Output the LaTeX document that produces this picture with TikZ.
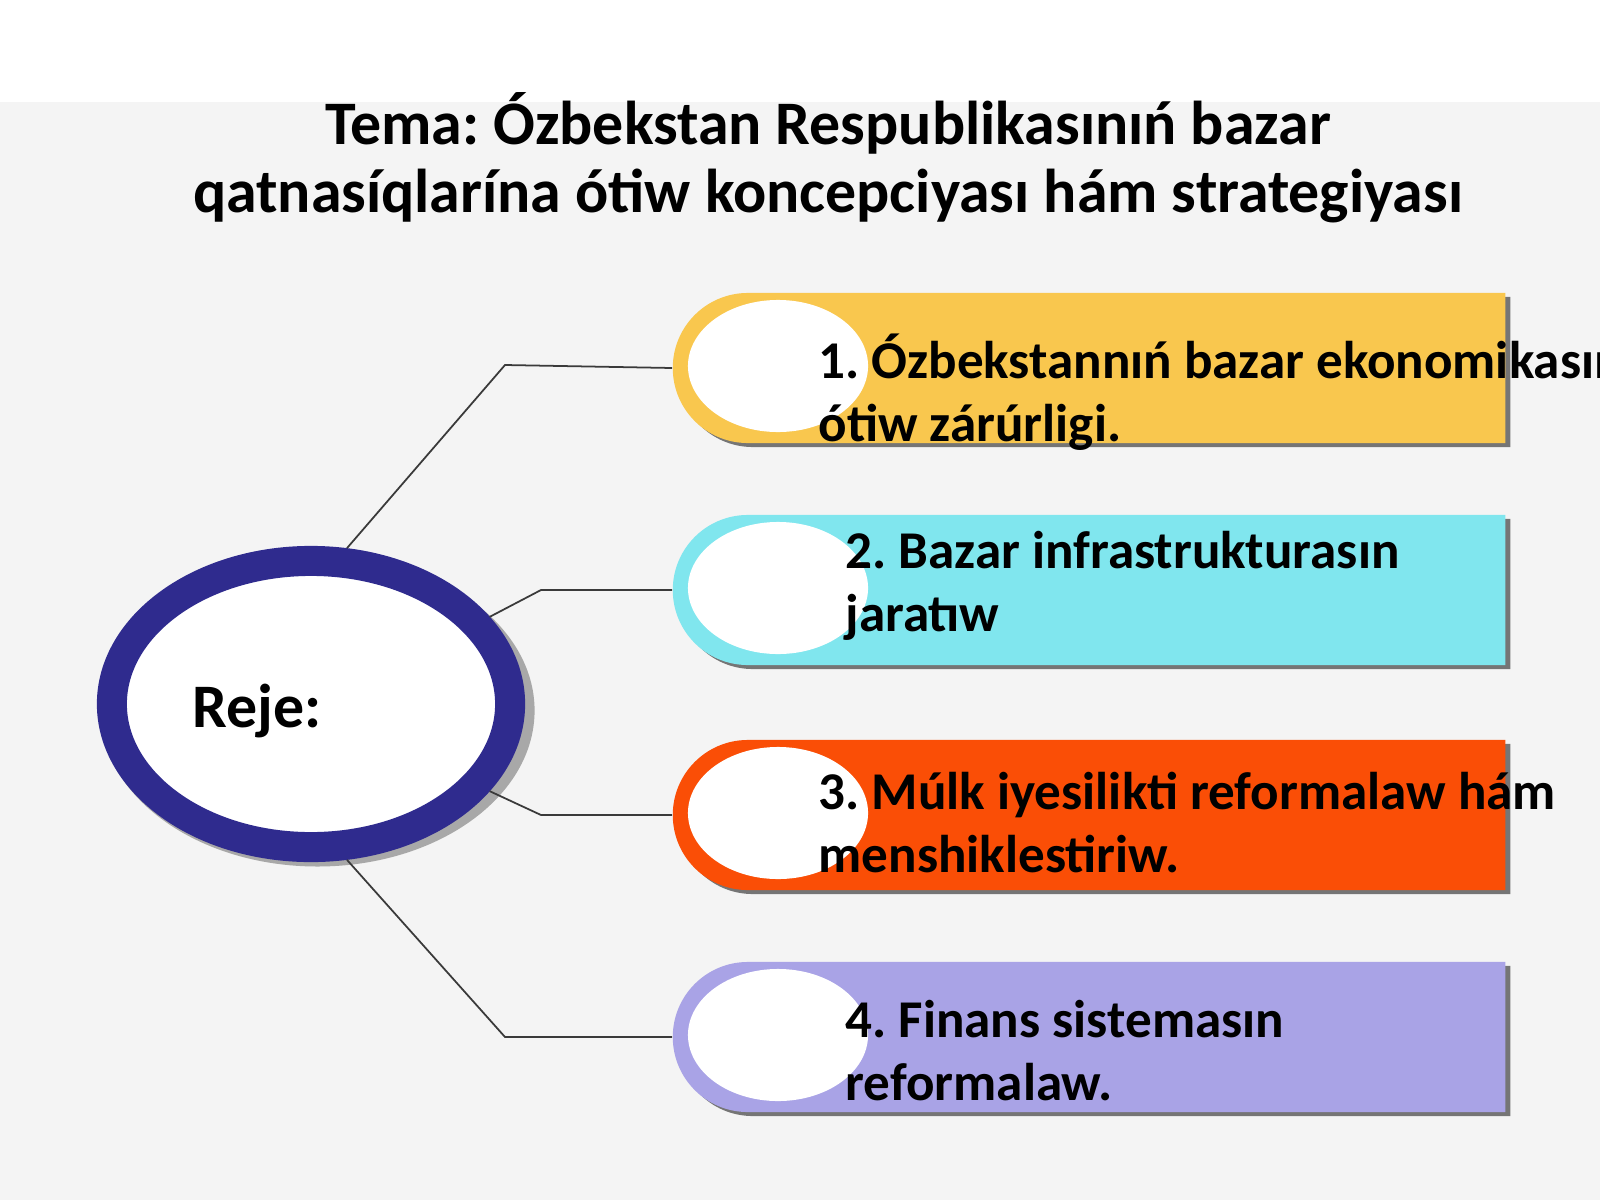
\documentclass[tikz,border=0pt]{standalone}
\usepackage{fontspec}
\setmainfont{Carlito}
\usetikzlibrary{shapes.geometric,shapes.misc,shadows}
\definecolor{ringblue}{HTML}{2F2B8E}
\definecolor{baryellow}{HTML}{F9C74E}
\definecolor{barcyan}{HTML}{80E6EE}
\definecolor{barorange}{HTML}{FA4E06}
\definecolor{barlilac}{HTML}{A9A3E6}
\definecolor{slidegray}{HTML}{F4F4F4}
\definecolor{wiregray}{HTML}{3A3A3A}
\tikzset{
	bar/.style={shape=rounded rectangle, rounded rectangle right arc=none, minimum width=8.32cm, minimum height=1.5cm, inner sep=0pt, drop shadow={shadow xshift=0.05cm, shadow yshift=-0.04cm, fill=black!75, opacity=0.7}},
	hole/.style={shape=ellipse, fill=white, minimum width=1.8cm, minimum height=1.32cm, inner sep=0pt},
	itemtext/.style={anchor=base west, align=left, inner sep=0pt, font=\fontsize{15.1}{17.8}\selectfont\bfseries},
	wire/.style={draw=wiregray, line width=0.5pt}
}
\frenchspacing
\begin{document}
\begin{tikzpicture}[x=0.01cm, y=-0.01cm]
	\useasboundingbox (0,0) rectangle (1600,1200);
	\fill[white] (0,0) rectangle (1600,1200);
	\fill[slidegray] (0,102) rectangle (1600,1200);

	\node[font=\fontsize{17.6}{19.1}\selectfont\bfseries, align=center, anchor=base, inner sep=0pt] (title) at (828,212) {Tema: Ózbekstan Respublikasınıń bazar\\qatnasíqlarína ótiw koncepciyası hám strategiyası};

	\node[bar, fill=baryellow] (bar1) at (1089,368) {};
	\node[bar, fill=barcyan] (bar2) at (1089,590) {};
	\node[bar, fill=barorange] (bar3) at (1089,815) {};
	\node[bar, fill=barlilac] (bar4) at (1089,1037) {};

	\node[hole] (hole1) at (778,366) {};
	\node[hole] (hole2) at (778,588) {};
	\node[hole] (hole3) at (778,813) {};
	\node[hole] (hole4) at (778,1035) {};

	\node[shape=ellipse, draw=ringblue, line width=0.3cm, fill=white, minimum width=3.98cm, minimum height=2.86cm, drop shadow={shadow scale=1.09, shadow xshift=0.06cm, shadow yshift=-0.06cm, fill=black!70, opacity=0.45}] (plan) at (311,704) {};
	\node[itemtext, font=\fontsize{17.6}{20}\selectfont\bfseries] (reje) at (192,727) {Reje:};

	\draw[wire] (plan.77) -- (505,365) -- (bar1.west);
	\draw[wire] (plan.26) -- (541,590) -- (bar2.west);
	\draw[wire] (plan.-26) -- (541,815) -- (bar3.west);
	\draw[wire] (plan.-77) -- (505,1037) -- (bar4.west);

	\node[itemtext] (item1) at (818,441) {1. Ózbekstannıń bazar ekonomikasına\\ótiw zárúrligi.};
	\node[itemtext] (item2) at (845,631) {2. Bazar infrastrukturasın\\jaratıw};
	\node[itemtext] (item3) at (818,872) {3. Múlk iyesilikti reformalaw hám\\menshiklestiriw.};
	\node[itemtext] (item4) at (845,1100) {4. Finans sistemasın\\reformalaw.};
\end{tikzpicture}
\end{document}
